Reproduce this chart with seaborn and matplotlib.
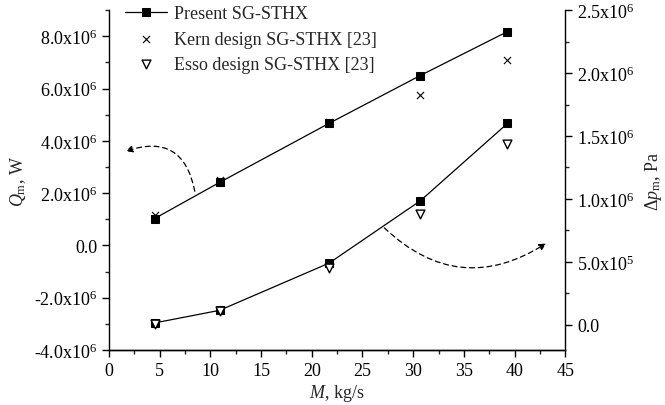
import numpy as np
import pandas as pd
import matplotlib
matplotlib.use("Agg")
import matplotlib.pyplot as plt
from matplotlib.ticker import FuncFormatter, MultipleLocator
import seaborn as sns

# Mass flow rate, kg/s
mass_flow = [4.5, 10.9, 21.7, 30.7, 39.3]

# Heat duty Q_m, W
q_present = [1.03e6, 2.41e6, 4.67e6, 6.50e6, 8.18e6]
q_kern = [1.15e6, 2.50e6, 4.72e6, 5.77e6, 7.11e6]

# Pressure drop, Pa
dp_present = [0.015e6, 0.115e6, 0.49e6, 0.985e6, 1.60e6]
dp_esso = [0.01e6, 0.11e6, 0.45e6, 0.88e6, 1.44e6]

legend_labels = ["Present SG-STHX", "Kern design SG-STHX [23]", "Esso design SG-STHX [23]"]

sns.set_style("ticks")
plt.rcParams["font.family"] = ["Liberation Serif", "DejaVu Serif"]
plt.rcParams["mathtext.fontset"] = "custom"
plt.rcParams["mathtext.rm"] = "Liberation Serif"
plt.rcParams["mathtext.it"] = "Liberation Serif:italic"
plt.rcParams["mathtext.default"] = "regular"
plt.rcParams["font.size"] = 13

df_q = pd.DataFrame({"M": mass_flow, "present": q_present, "kern": q_kern})
df_dp = pd.DataFrame({"M": mass_flow, "present": dp_present, "esso": dp_esso})

fig = plt.figure(figsize=(6.65, 4.06), dpi=100)
ax = fig.add_axes([0.164, 0.1355, 0.686, 0.837])
ax2 = ax.twinx()

line_kw = dict(color="black", linewidth=0.9)
sns.lineplot(data=df_q, x="M", y="present", ax=ax, marker="s", markersize=5.5,
             markeredgecolor="black", markerfacecolor="black", label=legend_labels[0], **line_kw)
sns.scatterplot(data=df_q, x="M", y="kern", ax=ax, marker="x", s=26, color="black",
                linewidth=0.8, label=legend_labels[1], zorder=3)

sns.lineplot(data=df_dp, x="M", y="present", ax=ax2, marker="s", markersize=5.5,
             markeredgecolor="black", markerfacecolor="black", legend=False, **line_kw)
sns.scatterplot(data=df_dp, x="M", y="esso", ax=ax2, marker="v", s=40, facecolor="white",
                edgecolor="black", linewidth=1.0, label=legend_labels[2], zorder=3)


def sci_fmt(v, pos):
    if abs(v) < 1e-9:
        return "0.0"
    exp = int(np.floor(np.log10(abs(v))))
    mant = v / 10 ** exp
    return f"{mant:.1f}x10$^{{{exp}}}$"


ax.set_xlim(0, 45)
ax.set_ylim(-4e6, 9e6)
ax2.set_ylim(-0.2e6, 2.5e6)
ax.xaxis.set_major_locator(MultipleLocator(5))
ax.xaxis.set_minor_locator(MultipleLocator(2.5))
ax.yaxis.set_major_locator(MultipleLocator(2e6))
ax.yaxis.set_minor_locator(MultipleLocator(1e6))
ax2.yaxis.set_major_locator(MultipleLocator(0.5e6))
ax2.yaxis.set_minor_locator(MultipleLocator(0.25e6))
ax.yaxis.set_major_formatter(FuncFormatter(sci_fmt))
ax2.yaxis.set_major_formatter(FuncFormatter(sci_fmt))

for a in (ax, ax2):
    a.tick_params(which="major", direction="out", length=5, width=1, labelsize=13, colors="black")
    a.tick_params(which="minor", direction="out", length=3, width=1)
    for s in a.spines.values():
        s.set_linewidth(1.0)
        s.set_color("black")
    a.spines["top"].set_visible(False)
ax.spines["right"].set_visible(False)
ax2.spines["left"].set_visible(False)

ax.set_xlabel("$\\it{M}$, kg/s", fontsize=13, labelpad=2)
ax.set_ylabel("$\\it{Q}_{\\rm m}$, W", fontsize=13, labelpad=4)
ax2.set_ylabel("$\\Delta \\it{p}_{\\rm m}$, Pa", fontsize=13, labelpad=6, rotation=90)

# Curved dashed arrows pointing each curve to its axis
ax.annotate("", xy=(0.031, 0.582), xytext=(0.189, 0.459), xycoords="axes fraction",
            arrowprops=dict(arrowstyle="-|>", linestyle=(0, (4, 3)), color="black", lw=0.9,
                            connectionstyle="arc3,rad=0.6", mutation_scale=10))
ax.annotate("", xy=(0.963, 0.318), xytext=(0.599, 0.365), xycoords="axes fraction",
            arrowprops=dict(arrowstyle="-|>", linestyle=(0, (4, 3)), color="black", lw=0.9,
                            connectionstyle="arc3,rad=0.4", mutation_scale=10))

h1, l1 = ax.get_legend_handles_labels()
h2, l2 = ax2.get_legend_handles_labels()
if ax2.get_legend() is not None:
    ax2.get_legend().remove()
ax.legend(h1 + h2, l1 + l2, loc="upper left", bbox_to_anchor=(0.02, 1.035), frameon=False,
          handlelength=2.3, handletextpad=0.4, labelspacing=0.45, fontsize=13, borderaxespad=0)

fig.savefig("out.png", dpi=100)
